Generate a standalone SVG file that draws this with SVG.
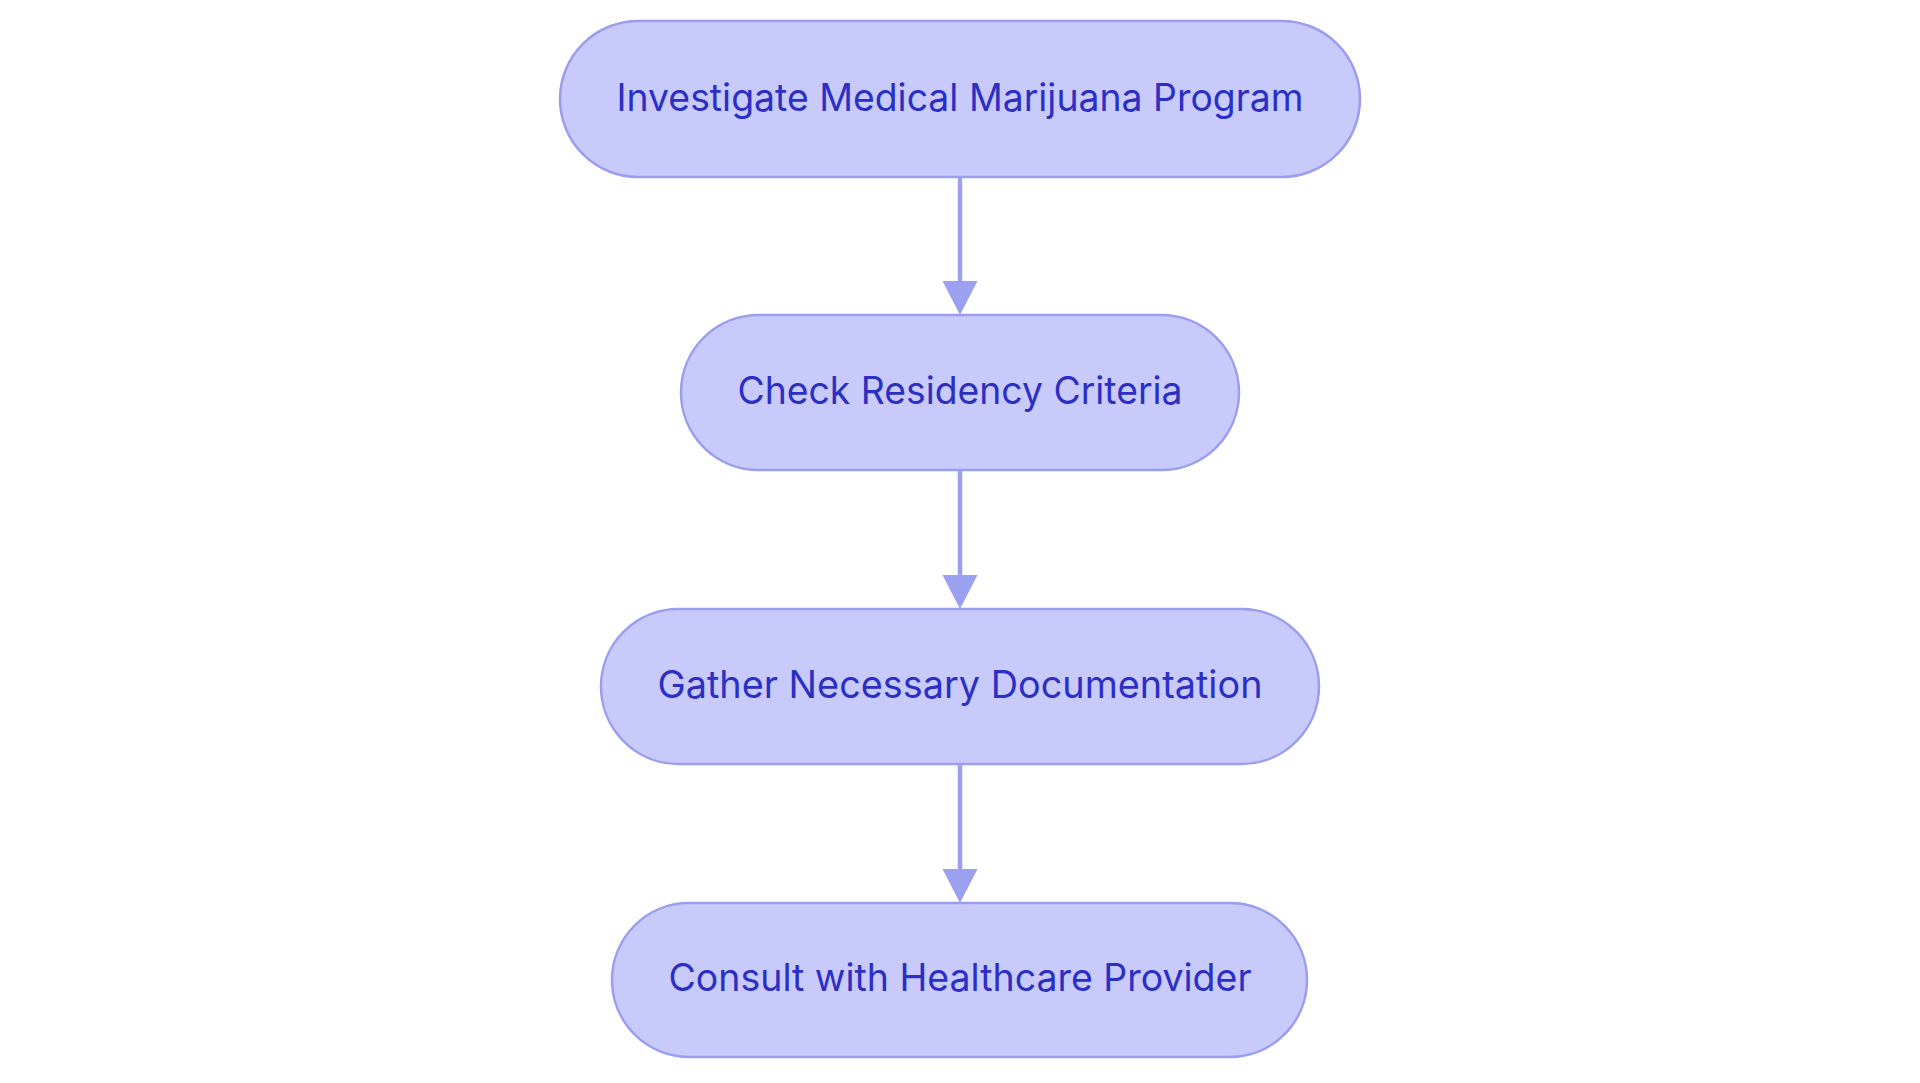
<svg xmlns="http://www.w3.org/2000/svg" width="1920" height="1083" viewBox="0 0 1920 1083">
<style>
.node rect{fill:#C9CAFC;stroke:#9A9EEF;stroke-width:2.5}
.node text{font-family:Inter,"Noto Sans","Liberation Sans",sans-serif;font-size:38px;fill:#2B2FC4;text-anchor:middle}
.edge{stroke:#9CA0F0;stroke-width:4.5;fill:none}
.head{fill:#9CA0F0}
</style>
<rect width="1920" height="1083" fill="#FFFFFF"/>
<g id="connectors">
<line class="edge" x1="960" y1="177" x2="960" y2="284"/>
<polygon class="head" points="942.5,281 977.5,281 960,315"/>
<line class="edge" x1="960" y1="470" x2="960" y2="578"/>
<polygon class="head" points="942.5,575 977.5,575 960,609"/>
<line class="edge" x1="960" y1="764" x2="960" y2="872"/>
<polygon class="head" points="942.5,869 977.5,869 960,903"/>
</g>
<g id="node1" class="node">
<rect x="560" y="21" width="800" height="156" rx="78" ry="78"/>
<text x="960" y="111" textLength="687" lengthAdjust="spacingAndGlyphs">Investigate Medical Marijuana Program</text>
</g>
<g id="node2" class="node">
<rect x="681" y="315" width="558" height="155" rx="77.5" ry="77.5"/>
<text x="960" y="404" textLength="445" lengthAdjust="spacingAndGlyphs">Check Residency Criteria</text>
</g>
<g id="node3" class="node">
<rect x="601" y="609" width="718" height="155" rx="77.5" ry="77.5"/>
<text x="960" y="698" textLength="605" lengthAdjust="spacingAndGlyphs">Gather Necessary Documentation</text>
</g>
<g id="node4" class="node">
<rect x="612" y="903" width="695" height="154" rx="77" ry="77"/>
<text x="960" y="991" textLength="583" lengthAdjust="spacingAndGlyphs">Consult with Healthcare Provider</text>
</g>
</svg>
